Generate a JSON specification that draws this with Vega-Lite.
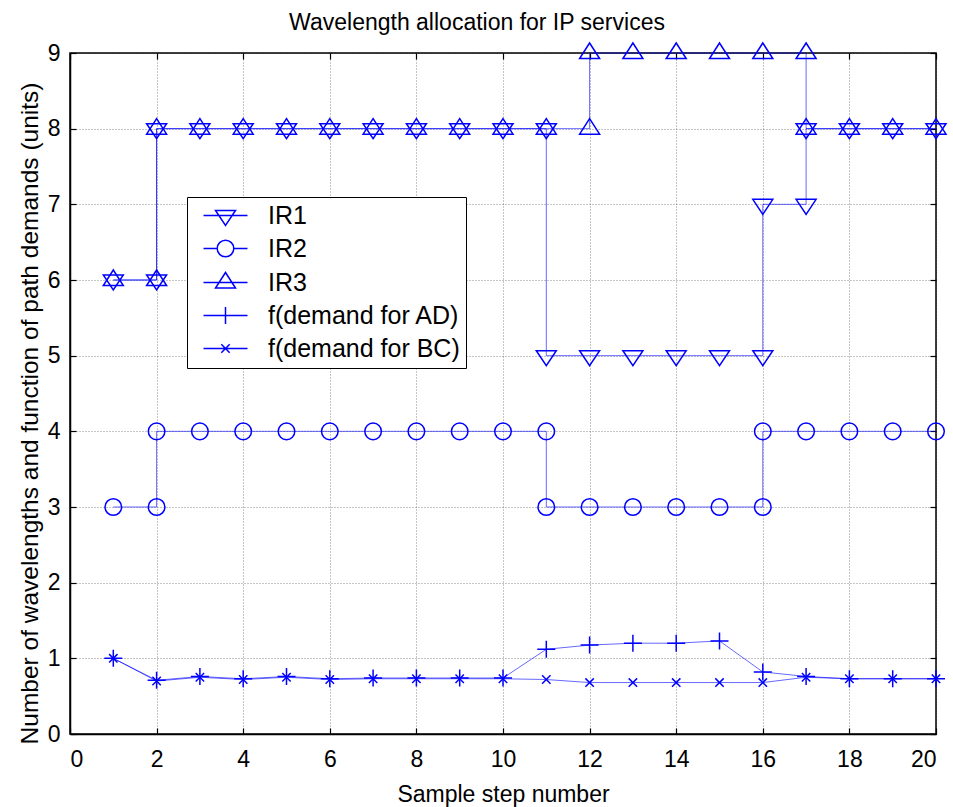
{
  "$schema": "https://vega.github.io/schema/vega-lite/v6.json",
  "autosize": {"type": "none"},
  "width": 866,
  "height": 681,
  "padding": {"left": 70, "top": 53, "right": 17, "bottom": 73},
  "background": "white",
  "title": {"text": "Wavelength allocation for IP services", "font": "Liberation Sans", "fontSize": 23, "fontWeight": "normal", "color": "black", "offset": 5, "dx": -26},
  "config": {
    "view": {"stroke": "black", "strokeWidth": 1.5},
    "axis": {"labelFont": "Liberation Sans", "labelFontSize": 23, "labelColor": "black", "titleFont": "Liberation Sans", "titleFontSize": 23, "titleFontWeight": "normal", "titleColor": "black", "domainColor": "black", "domainWidth": 1.5, "tickColor": "black", "tickWidth": 1.2, "gridColor": "#000000", "gridOpacity": 0.45, "gridDash": [1, 2], "gridWidth": 1}
  },
  "data": {"values": [
    {"s": "IR1", "x": 1, "y": 6, "o": 1}, {"s": "IR1", "x": 2, "y": 6, "o": 2}, {"s": "IR1", "x": 2, "y": 8, "o": 3}, {"s": "IR1", "x": 3, "y": 8, "o": 4},
    {"s": "IR1", "x": 4, "y": 8, "o": 5}, {"s": "IR1", "x": 5, "y": 8, "o": 6}, {"s": "IR1", "x": 6, "y": 8, "o": 7}, {"s": "IR1", "x": 7, "y": 8, "o": 8},
    {"s": "IR1", "x": 8, "y": 8, "o": 9}, {"s": "IR1", "x": 9, "y": 8, "o": 10}, {"s": "IR1", "x": 10, "y": 8, "o": 11}, {"s": "IR1", "x": 11, "y": 8, "o": 12},
    {"s": "IR1", "x": 11, "y": 5, "o": 13}, {"s": "IR1", "x": 12, "y": 5, "o": 14}, {"s": "IR1", "x": 13, "y": 5, "o": 15}, {"s": "IR1", "x": 14, "y": 5, "o": 16},
    {"s": "IR1", "x": 15, "y": 5, "o": 17}, {"s": "IR1", "x": 16, "y": 5, "o": 18}, {"s": "IR1", "x": 16, "y": 7, "o": 19}, {"s": "IR1", "x": 17, "y": 7, "o": 20},
    {"s": "IR1", "x": 17, "y": 8, "o": 21}, {"s": "IR1", "x": 18, "y": 8, "o": 22}, {"s": "IR1", "x": 19, "y": 8, "o": 23}, {"s": "IR1", "x": 20, "y": 8, "o": 24},
    {"s": "IR2", "x": 1, "y": 3, "o": 1}, {"s": "IR2", "x": 2, "y": 3, "o": 2}, {"s": "IR2", "x": 2, "y": 4, "o": 3}, {"s": "IR2", "x": 3, "y": 4, "o": 4},
    {"s": "IR2", "x": 4, "y": 4, "o": 5}, {"s": "IR2", "x": 5, "y": 4, "o": 6}, {"s": "IR2", "x": 6, "y": 4, "o": 7}, {"s": "IR2", "x": 7, "y": 4, "o": 8},
    {"s": "IR2", "x": 8, "y": 4, "o": 9}, {"s": "IR2", "x": 9, "y": 4, "o": 10}, {"s": "IR2", "x": 10, "y": 4, "o": 11}, {"s": "IR2", "x": 11, "y": 4, "o": 12},
    {"s": "IR2", "x": 11, "y": 3, "o": 13}, {"s": "IR2", "x": 12, "y": 3, "o": 14}, {"s": "IR2", "x": 13, "y": 3, "o": 15}, {"s": "IR2", "x": 14, "y": 3, "o": 16},
    {"s": "IR2", "x": 15, "y": 3, "o": 17}, {"s": "IR2", "x": 16, "y": 3, "o": 18}, {"s": "IR2", "x": 16, "y": 4, "o": 19}, {"s": "IR2", "x": 17, "y": 4, "o": 20},
    {"s": "IR2", "x": 18, "y": 4, "o": 21}, {"s": "IR2", "x": 19, "y": 4, "o": 22}, {"s": "IR2", "x": 20, "y": 4, "o": 23},
    {"s": "IR3", "x": 1, "y": 6, "o": 1}, {"s": "IR3", "x": 2, "y": 6, "o": 2}, {"s": "IR3", "x": 2, "y": 8, "o": 3}, {"s": "IR3", "x": 3, "y": 8, "o": 4},
    {"s": "IR3", "x": 4, "y": 8, "o": 5}, {"s": "IR3", "x": 5, "y": 8, "o": 6}, {"s": "IR3", "x": 6, "y": 8, "o": 7}, {"s": "IR3", "x": 7, "y": 8, "o": 8},
    {"s": "IR3", "x": 8, "y": 8, "o": 9}, {"s": "IR3", "x": 9, "y": 8, "o": 10}, {"s": "IR3", "x": 10, "y": 8, "o": 11}, {"s": "IR3", "x": 11, "y": 8, "o": 12},
    {"s": "IR3", "x": 12, "y": 8, "o": 13}, {"s": "IR3", "x": 12, "y": 9, "o": 14}, {"s": "IR3", "x": 13, "y": 9, "o": 15}, {"s": "IR3", "x": 14, "y": 9, "o": 16},
    {"s": "IR3", "x": 15, "y": 9, "o": 17}, {"s": "IR3", "x": 16, "y": 9, "o": 18}, {"s": "IR3", "x": 17, "y": 9, "o": 19}, {"s": "IR3", "x": 17, "y": 8, "o": 20},
    {"s": "IR3", "x": 18, "y": 8, "o": 21}, {"s": "IR3", "x": 19, "y": 8, "o": 22}, {"s": "IR3", "x": 20, "y": 8, "o": 23},
    {"s": "f(demand for AD)", "x": 1, "y": 1.0, "o": 1}, {"s": "f(demand for AD)", "x": 2, "y": 0.71, "o": 2}, {"s": "f(demand for AD)", "x": 3, "y": 0.76, "o": 3},
    {"s": "f(demand for AD)", "x": 4, "y": 0.73, "o": 4}, {"s": "f(demand for AD)", "x": 5, "y": 0.76, "o": 5}, {"s": "f(demand for AD)", "x": 6, "y": 0.73, "o": 6},
    {"s": "f(demand for AD)", "x": 7, "y": 0.74, "o": 7}, {"s": "f(demand for AD)", "x": 8, "y": 0.74, "o": 8}, {"s": "f(demand for AD)", "x": 9, "y": 0.74, "o": 9},
    {"s": "f(demand for AD)", "x": 10, "y": 0.74, "o": 10}, {"s": "f(demand for AD)", "x": 11, "y": 1.12, "o": 11}, {"s": "f(demand for AD)", "x": 12, "y": 1.175, "o": 12},
    {"s": "f(demand for AD)", "x": 13, "y": 1.2, "o": 13}, {"s": "f(demand for AD)", "x": 14, "y": 1.2, "o": 14}, {"s": "f(demand for AD)", "x": 15, "y": 1.23, "o": 15},
    {"s": "f(demand for AD)", "x": 16, "y": 0.82, "o": 16}, {"s": "f(demand for AD)", "x": 17, "y": 0.76, "o": 17}, {"s": "f(demand for AD)", "x": 18, "y": 0.73, "o": 18},
    {"s": "f(demand for AD)", "x": 19, "y": 0.73, "o": 19}, {"s": "f(demand for AD)", "x": 20, "y": 0.73, "o": 20},
    {"s": "f(demand for BC)", "x": 1, "y": 1.0, "o": 1}, {"s": "f(demand for BC)", "x": 2, "y": 0.7, "o": 2}, {"s": "f(demand for BC)", "x": 3, "y": 0.75, "o": 3},
    {"s": "f(demand for BC)", "x": 4, "y": 0.72, "o": 4}, {"s": "f(demand for BC)", "x": 5, "y": 0.75, "o": 5}, {"s": "f(demand for BC)", "x": 6, "y": 0.72, "o": 6},
    {"s": "f(demand for BC)", "x": 7, "y": 0.73, "o": 7}, {"s": "f(demand for BC)", "x": 8, "y": 0.73, "o": 8}, {"s": "f(demand for BC)", "x": 9, "y": 0.73, "o": 9},
    {"s": "f(demand for BC)", "x": 10, "y": 0.73, "o": 10}, {"s": "f(demand for BC)", "x": 11, "y": 0.72, "o": 11}, {"s": "f(demand for BC)", "x": 12, "y": 0.68, "o": 12},
    {"s": "f(demand for BC)", "x": 13, "y": 0.68, "o": 13}, {"s": "f(demand for BC)", "x": 14, "y": 0.68, "o": 14}, {"s": "f(demand for BC)", "x": 15, "y": 0.68, "o": 15},
    {"s": "f(demand for BC)", "x": 16, "y": 0.68, "o": 16}, {"s": "f(demand for BC)", "x": 17, "y": 0.75, "o": 17}, {"s": "f(demand for BC)", "x": 18, "y": 0.73, "o": 18},
    {"s": "f(demand for BC)", "x": 19, "y": 0.73, "o": 19}, {"s": "f(demand for BC)", "x": 20, "y": 0.73, "o": 20}
  ]},
  "layer": [
    {
      "mark": {"type": "line", "color": "#0000ff", "strokeWidth": 0.6},
      "encoding": {
        "x": {"field": "x", "type": "quantitative", "scale": {"domain": [0, 20], "nice": false, "zero": false},
          "axis": {"values": [0, 2, 4, 6, 8, 10, 12, 14, 16, 18, 20], "title": "Sample step number", "grid": true, "tickSize": -6, "labelPadding": 20, "titlePadding": 12}},
        "y": {"field": "y", "type": "quantitative", "scale": {"domain": [0, 9], "nice": false},
          "axis": {"values": [0, 1, 2, 3, 4, 5, 6, 7, 8, 9], "title": "Number of wavelengths and function of path demands (units)", "titleFontSize": 24.5, "titleY": 360, "grid": true, "tickSize": -6, "labelPadding": 16, "titlePadding": 5}},
        "detail": {"field": "s", "type": "nominal"},
        "order": {"field": "o", "type": "quantitative"}
      }
    },
    {
      "mark": {"type": "point", "filled": false, "color": "#0000ff", "strokeWidth": 1.5, "size": 400, "opacity": 1},
      "encoding": {
        "x": {"field": "x", "type": "quantitative", "axis": null},
        "y": {"field": "y", "type": "quantitative", "axis": null},
        "shape": {"field": "s", "type": "nominal", "legend": null,
          "scale": {"domain": ["IR1", "IR2", "IR3", "f(demand for AD)", "f(demand for BC)"],
            "range": ["M-1,-0.5L1,-0.5L0,1Z", "M0.83,0A0.83,0.83,0,1,1,-0.83,0A0.83,0.83,0,1,1,0.83,0Z", "M-1,0.55L1,0.55L0,-1Z", "M-0.9,0L0.9,0M0,-0.85L0,0.85", "M-0.42,-0.42L0.42,0.42M-0.42,0.42L0.42,-0.42"]}}
      }
    },
    {
      "mark": {"type": "point", "filled": false, "color": "#0000ff", "opacity": 0, "size": 400},
      "encoding": {
        "x": {"field": "x", "type": "quantitative", "axis": {"orient": "top", "values": [0, 2, 4, 6, 8, 10, 12, 14, 16, 18, 20], "labels": false, "grid": false, "domain": false, "tickSize": -6, "title": null}},
        "y": {"field": "y", "type": "quantitative", "axis": {"orient": "right", "values": [0, 1, 2, 3, 4, 5, 6, 7, 8, 9], "labels": false, "grid": false, "domain": false, "tickSize": -6, "title": null}},
        "shape": {"field": "s", "type": "nominal",
          "scale": {"domain": ["IR1", "IR2", "IR3", "f(demand for AD)", "f(demand for BC)"],
            "range": ["M-2.2,0L2.2,0M-1,-0.5L1,-0.5L0,1Z", "M-2.2,0L-0.83,0M0.83,0L2.2,0M0.83,0A0.83,0.83,0,1,1,-0.83,0A0.83,0.83,0,1,1,0.83,0Z", "M-2.2,0L2.2,0M-1,0.55L1,0.55L0,-1Z", "M-2.2,0L2.2,0M0,-0.85L0,0.85", "M-2.2,0L2.2,0M-0.42,-0.42L0.42,0.42M-0.42,0.42L0.42,-0.42"]},
          "legend": {"title": null, "orient": "none", "legendX": 117, "legendY": 144, "symbolSize": 400, "symbolOffset": 20, "labelOffset": 30,
            "labelFont": "Liberation Sans", "labelFontSize": 25, "labelColor": "black", "labelLimit": 400, "padding": 6, "rowPadding": 7,
            "labelExpr": "datum.label + '\u00a0\u00a0\u00a0'",
            "strokeColor": "black", "fillColor": "white", "cornerRadius": 0,
            "encode": {
              "legend": {"update": {"strokeWidth": {"value": 2}}},
              "symbols": {"update": {"opacity": {"value": 1}, "fill": {"value": "transparent"}, "stroke": {"value": "#0000ff"}, "strokeWidth": {"value": 1.3}}}}}
        }
      }
    }
  ],
  "resolve": {"scale": {"shape": "independent"}, "axis": {"x": "independent", "y": "independent"}}
}
